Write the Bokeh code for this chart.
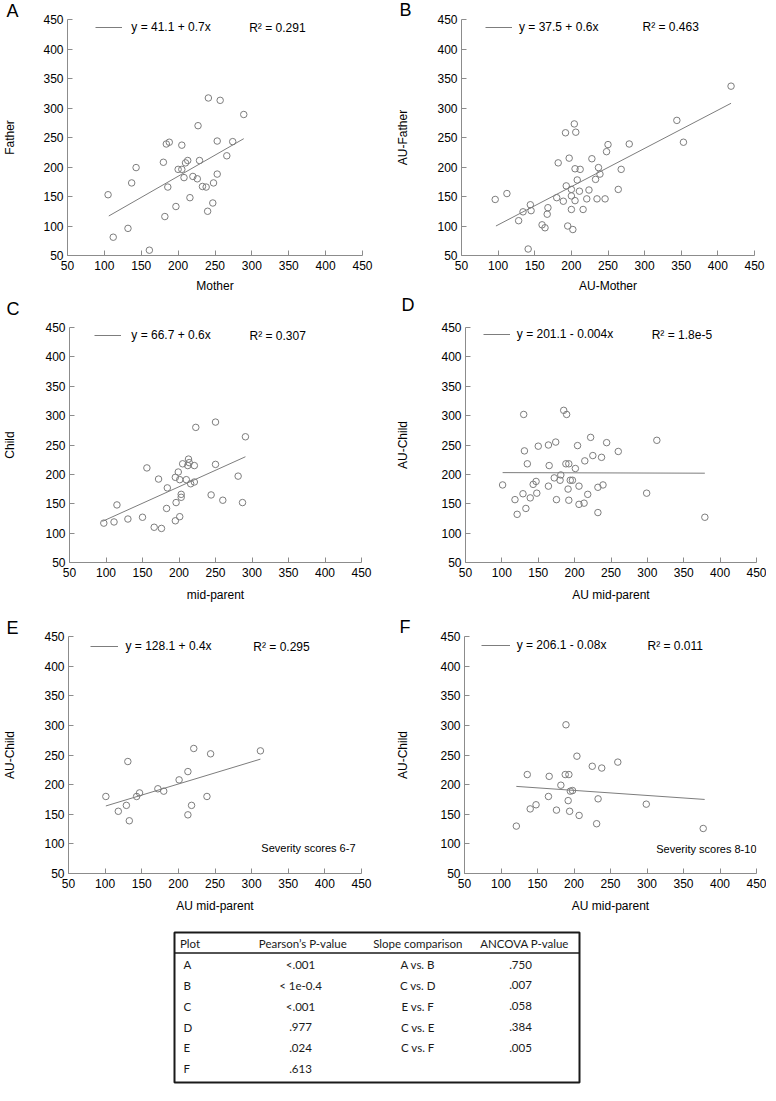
from bokeh.plotting import figure
from bokeh.models import Range1d, FixedTicker, Label, Legend, LegendItem, Span, Title
from bokeh.layouts import column, row
from bokeh.embed import file_html
from bokeh.resources import INLINE
from bokeh.core.properties import value

# ---------------- data ----------------
axis_ticks = [50, 100, 150, 200, 250, 300, 350, 400, 450]

A_x = [105, 112, 132, 137, 143, 161, 180, 182, 186, 184, 188, 197, 200, 205, 205, 208, 210, 213,
       216, 220, 226, 227, 229, 233, 238, 240, 241, 247, 248, 253, 253, 257, 266, 274, 289]
A_y = [153, 81, 96, 173, 199, 59, 208, 116, 166, 239, 242, 133, 196, 196, 237, 182, 207, 211,
       148, 184, 180, 270, 211, 167, 166, 125, 317, 139, 173, 244, 188, 313, 219, 243, 289]
A_fit_x = [106, 289]
A_fit_y = [117, 248]

B_x = [96, 112, 128, 134, 141, 144, 145, 160, 164, 167, 168, 180, 182, 189, 192, 193, 195, 197,
       200, 200, 200, 202, 204, 205, 205, 206, 208, 211, 212, 216, 221, 224, 228, 233, 235, 237,
       239, 246, 248, 250, 264, 268, 279, 344, 353, 418]
B_y = [145, 155, 109, 124, 61, 136, 126, 102, 97, 120, 131, 148, 207, 142, 258, 168, 100, 215,
       162, 151, 128, 94, 273, 143, 197, 259, 178, 159, 196, 128, 146, 161, 214, 179, 146, 199,
       188, 146, 226, 238, 162, 196, 239, 279, 242, 337]
B_fit_x = [97, 418]
B_fit_y = [100, 308]

C_x = [97, 111, 115, 130, 150, 156, 166, 172, 176, 183, 184, 195, 195, 196, 199, 201, 201, 203,
       203, 205, 210, 212, 213, 214, 216, 221, 221, 223, 244, 250, 250, 260, 281, 287, 291]
C_y = [117, 119, 148, 124, 127, 211, 110, 192, 108, 142, 177, 121, 195, 152, 204, 191, 128, 161,
       166, 218, 191, 215, 226, 220, 184, 215, 187, 280, 165, 289, 217, 156, 197, 152, 264]
C_fit_x = [95, 291]
C_fit_y = [120, 230]

D_x = [101, 118, 121, 129, 130, 131, 133, 135, 139, 143, 147, 148, 150, 164, 164, 165, 172, 174,
       175, 180, 181, 185, 188, 189, 191, 192, 192, 194, 197, 201, 204, 206, 206, 213, 214, 218,
       222, 225, 232, 232, 237, 239, 244, 260, 299, 313, 379]
D_y = [182, 157, 132, 167, 302, 240, 142, 218, 160, 183, 188, 168, 248, 250, 180, 215, 194, 255,
       157, 190, 199, 309, 218, 302, 175, 218, 156, 190, 190, 210, 249, 180, 149, 151, 223, 166,
       263, 232, 135, 178, 229, 182, 254, 239, 168, 258, 127]
D_fit_x = [101, 379]
D_fit_y = [203, 202]

E_x = [101, 118, 129, 131, 133, 143, 147, 172, 180, 201, 213, 213, 218, 221, 239, 244, 312]
E_y = [180, 155, 165, 239, 139, 180, 186, 193, 189, 208, 149, 222, 165, 261, 180, 252, 257]
E_fit_x = [101, 312]
E_fit_y = [164, 243]

F_x = [121, 136, 140, 148, 165, 166, 176, 182, 188, 189, 192, 193, 194, 195, 198, 204, 207, 225,
       231, 233, 238, 260, 299, 377]
F_y = [130, 217, 159, 166, 180, 214, 157, 199, 217, 301, 173, 217, 155, 189, 190, 248, 148, 231,
       134, 176, 228, 238, 167, 126]
F_fit_x = [121, 379]
F_fit_y = [197, 175]

equations = ["y = 41.1 + 0.7x", "y = 37.5 + 0.6x", "y = 66.7 + 0.6x",
             "y = 201.1 - 0.004x", "y = 128.1 + 0.4x", "y = 206.1 - 0.08x"]
r_squared = ["R\u00b2 = 0.291", "R\u00b2 = 0.463", "R\u00b2 = 0.307",
             "R\u00b2 = 1.8e-5", "R\u00b2 = 0.295", "R\u00b2 = 0.011"]
x_labels = ["Mother", "AU-Mother", "mid-parent", "AU mid-parent", "AU mid-parent", "AU mid-parent"]
y_labels = ["Father", "AU-Father", "Child", "AU-Child", "AU-Child", "AU-Child"]
panel_letters = ["A", "B", "C", "D", "E", "F"]
notes = [None, None, None, None, "Severity scores 6-7", "Severity scores 8-10"]

table_header = ["Plot", "Pearson\u2019s P-value", "Slope comparison", "ANCOVA P-value"]
table_plots = ["A", "B", "C", "D", "E", "F"]
pearson_p = ["<.001", "< 1e-0.4", "<.001", ".977", ".024", ".613"]
slope_comparisons = ["A vs. B", "C vs. D", "E vs. F", "C vs. E", "C vs. F"]
ancova_p = [".750", ".007", ".058", ".384", ".005"]

# ---------------- styling ----------------
FONT = "Liberation Sans"
TFONT = "Lato"
AXIS_GRAY = "#8c8c8c"
MARK_GRAY = "#7d7d7d"
TITLE_H = 23   # approx. layout height of an 18px title (2 + text height)


def panel(i, xs, ys, fx, fy, width, height, left, right, top, bottom,
          ylab_standoff, xlab_standoff, leg_x, leg_row, glyph_w, lab_standoff, r2_x,
          letter_top, note_pos=None, letter_x=0):
    fh = height - top - bottom
    p = figure(width=width, height=height, title=None,
               x_range=Range1d(50, 450), y_range=Range1d(50, 450),
               output_backend="svg", toolbar_location=None,
               min_border_left=left, min_border_right=right,
               min_border_top=top, min_border_bottom=bottom)
    # panel letter placed in the top border through titles
    letter_size = TITLE_H - 6
    spacer = top - letter_size - (letter_top + 3)
    tkw = dict(text_font=FONT, text_font_size="18px", text_font_style="normal",
               text_color="#000000", align="left", vertical_align="top")
    if spacer >= 1:
        p.add_layout(Title(text=" ", standoff=spacer - TITLE_H, **tkw), "above")
        p.add_layout(Title(text=panel_letters[i], offset=letter_x - left, standoff=-6, **tkw),
                     "above")
    else:
        s = 2 * (top - TITLE_H - letter_top)
        p.add_layout(Title(text=panel_letters[i], offset=letter_x - left, standoff=s, **tkw),
                     "above")

    p.outline_line_color = None
    p.grid.visible = False
    p.xaxis.ticker = FixedTicker(ticks=axis_ticks)
    p.yaxis.ticker = FixedTicker(ticks=axis_ticks)
    for ax in (p.xaxis[0], p.yaxis[0]):
        ax.axis_line_color = AXIS_GRAY
        ax.major_tick_line_color = AXIS_GRAY
        ax.major_tick_in = 5
        ax.major_tick_out = 0
        ax.minor_tick_line_color = None
        ax.major_label_text_font = FONT
        ax.major_label_text_font_size = "12px"
        ax.major_label_text_color = "#000000"
        ax.axis_label_text_font = FONT
        ax.axis_label_text_font_size = "12px"
        ax.axis_label_text_font_style = "normal"
        ax.axis_label_text_color = "#000000"
    p.xaxis.major_label_standoff = 5
    p.yaxis.major_label_standoff = 4
    p.xaxis.axis_label = x_labels[i]
    p.yaxis.axis_label = y_labels[i]
    p.xaxis.axis_label_standoff = xlab_standoff
    p.yaxis.axis_label_standoff = ylab_standoff

    p.scatter(xs, ys, marker="circle", size=6.5, fill_color=None,
              line_color=MARK_GRAY, line_width=1)
    r = p.line(fx, fy, line_color=MARK_GRAY, line_width=1)

    row_h = 14
    leg = Legend(items=[LegendItem(label=equations[i], renderers=[r])],
                 location=(leg_x, fh - leg_row - row_h / 2),
                 border_line_color=None, background_fill_alpha=0,
                 padding=0, margin=0, spacing=0,
                 glyph_width=int(glyph_w), glyph_height=row_h, label_height=row_h,
                 label_standoff=int(round(lab_standoff)),
                 label_text_font=FONT, label_text_font_size="12px",
                 label_text_color="#000000")
    p.add_layout(leg)
    p.add_layout(Label(x=r2_x, y=fh - leg_row, x_units="screen", y_units="screen",
                       text=r_squared[i], text_baseline="middle", text_align="left",
                       text_font=FONT, text_font_size="12px", text_color="#000000"))
    if note_pos is not None:
        p.add_layout(Label(x=note_pos[0], y=note_pos[1], x_units="screen", y_units="screen",
                           text=notes[i], text_baseline="middle", text_align="right",
                           text_font=FONT, text_font_size="11px", text_color="#000000"))
    return p


pA = panel(0, A_x, A_y, A_fit_x, A_fit_y, 393, 295, 61, 31, 17, 38, 23, 6,
           28.3, 12.3, 27, 9, 181.7, -3)
pB = panel(1, B_x, B_y, B_fit_x, B_fit_y, 373, 295, 62, 12, 19, 36, 24, 6,
           24, 11.5, 27, 7, 181, -3)
pC = panel(2, C_x, C_y, C_fit_x, C_fit_y, 393, 315, 63, 32, 28, 48, 25, 8,
           25.3, 12, 27, 10, 180, -3)
pD = panel(3, D_x, D_y, D_fit_x, D_fit_y, 373, 315, 66, 10, 32, 45, 28, 8,
           17.8, 10, 27, 7, 186.2, -3, letter_x=2)
pE = panel(4, E_x, E_y, E_fit_x, E_fit_y, 393, 305, 62, 32, 25, 42, 24, 8,
           21.5, 11.3, 28, 8, 184.8, 5.3, note_pos=(287, 26))
pF = panel(5, F_x, F_y, F_fit_x, F_fit_y, 373, 305, 65, 10, 26, 40, 27, 8,
           16.7, 11, 29, 7, 183, 5.3, note_pos=(292, 25))

# ---------------- table ----------------
t = figure(width=760, height=170, title=None,
           x_range=Range1d(0, 405), y_range=Range1d(156, 0),
           x_axis_location=None, y_axis_location=None,
           output_backend="svg", toolbar_location=None,
           min_border_left=174, min_border_right=181,
           min_border_top=17, min_border_bottom=3)
t.grid.visible = False
t.outline_line_color = "#1a1a1a"
t.outline_line_width = 2

header_y = 11
row_y = [33.5 + 21.6 * k for k in range(len(table_plots))]
TXT = dict(text_font=value(TFONT), text_font_size="11.5px", text_color="#1a1a1a",
           text_baseline="middle")

t.text(x=[5.5, 128.3, 243.3, 350], y=[header_y] * 4, text=table_header,
       text_align=["left", "center", "center", "center"], **TXT)
t.text(x=[9] * len(table_plots), y=row_y, text=table_plots, text_align="left", **TXT)
t.text(x=[126] * len(pearson_p), y=row_y, text=pearson_p, text_align="center", **TXT)
t.text(x=[243.3] * len(slope_comparisons), y=row_y[:len(slope_comparisons)],
       text=slope_comparisons, text_align="center", **TXT)
t.text(x=[346] * len(ancova_p), y=row_y[:len(ancova_p)], text=ancova_p,
       text_align="center", **TXT)
t.add_layout(Span(location=21.3, dimension="width", line_color="#1a1a1a", line_width=1.5))

layout = column(row(pA, pB), row(pC, pD), row(pE, pF), t)
open("out.html", "w").write(file_html(layout, INLINE))
